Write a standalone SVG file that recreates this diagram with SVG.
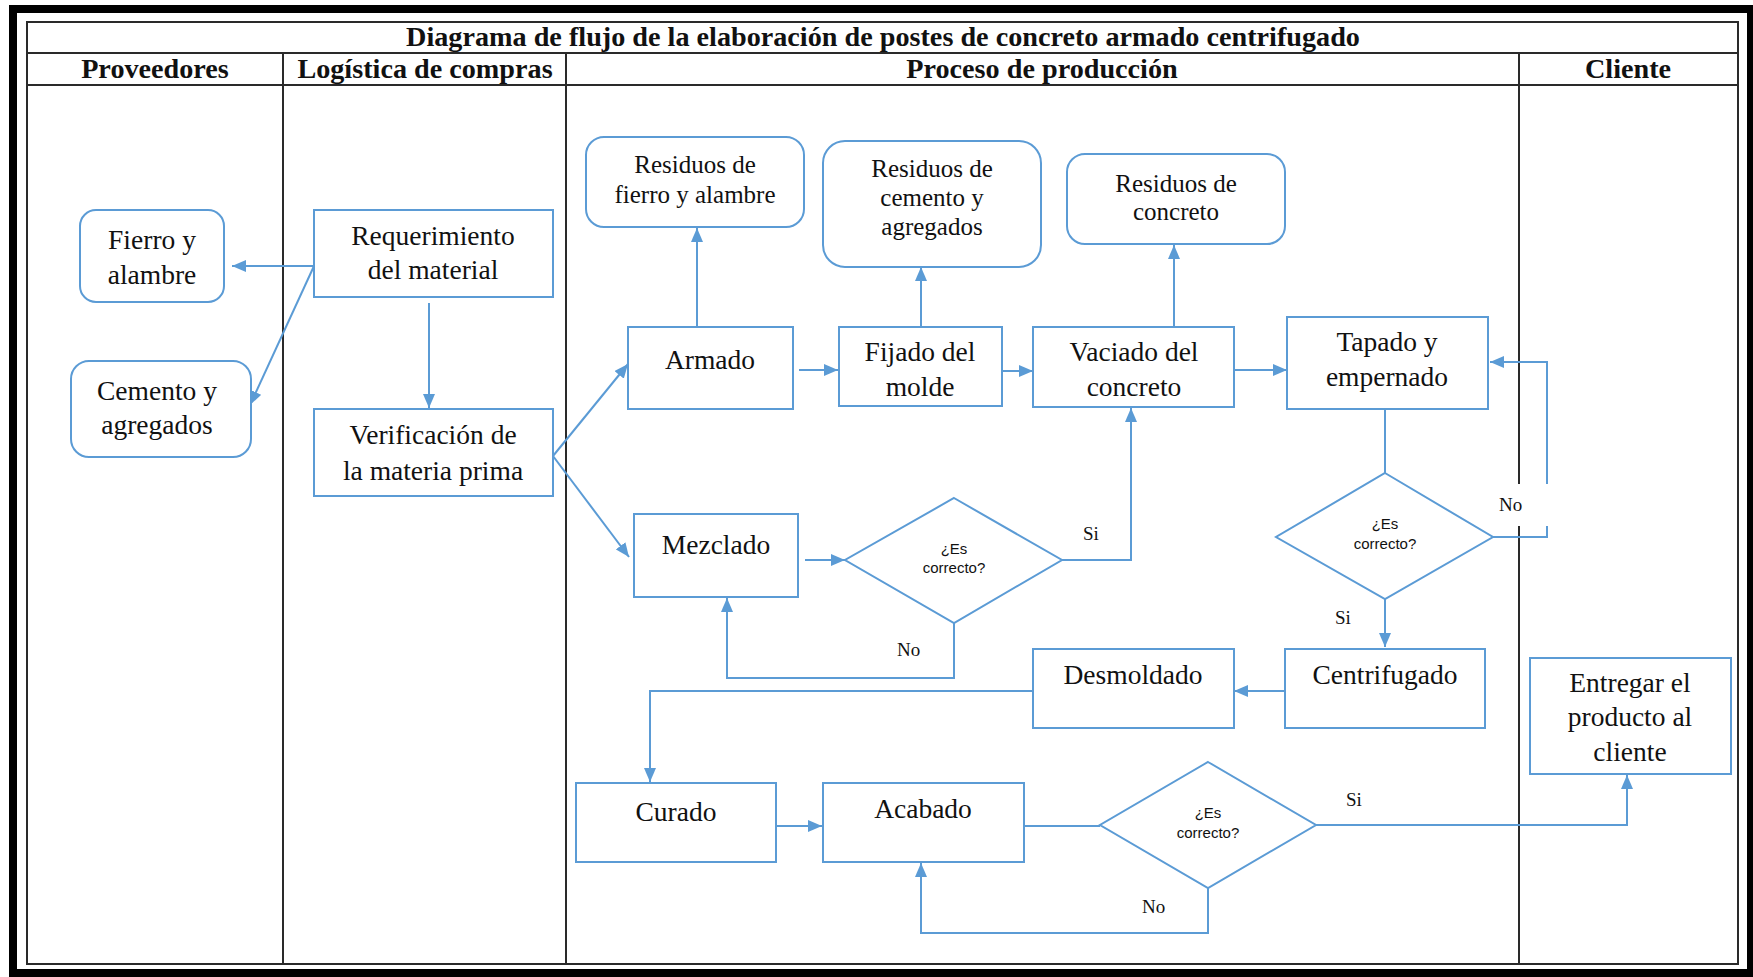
<svg xmlns="http://www.w3.org/2000/svg" width="1753" height="977" viewBox="0 0 1753 977">
  <defs>
    <marker id="arrow" viewBox="0 0 14 12" refX="14" refY="6" markerWidth="14" markerHeight="12" markerUnits="userSpaceOnUse" orient="auto">
      <path d="M0,0 L14,6 L0,12 z" fill="#5B9BD5"/>
    </marker>
    <style>
      .frame { fill: none; stroke: #000; stroke-width: 8; }
      .grid { fill: none; stroke: #2a2a2a; stroke-width: 2; }
      .title { font-family: "Liberation Serif", "Times New Roman", serif; font-weight: bold; font-size: 28.2px; fill: #111; text-anchor: middle; }
      .box { fill: #fff; stroke: #5B9BD5; stroke-width: 2; }
      .txt { font-family: "Liberation Serif", "Times New Roman", serif; font-size: 27.5px; fill: #111; text-anchor: middle; }
      .txt-s { font-family: "Liberation Serif", "Times New Roman", serif; font-size: 25px; fill: #111; text-anchor: middle; }
      .dtxt { font-family: "Liberation Sans", Arial, sans-serif; font-size: 15px; fill: #111; text-anchor: middle; }
      .lbl { font-family: "Liberation Serif", "Times New Roman", serif; font-size: 19px; fill: #111; }
      .conn { fill: none; stroke: #5B9BD5; stroke-width: 2; }
      .arr { marker-end: url(#arrow); }
    </style>
  </defs>

  <rect x="0" y="0" width="1753" height="977" fill="#fff"/>

  <!-- outer frame and swimlane table -->
  <g id="lanes">
    <rect class="frame" x="13" y="9" width="1738" height="964"/>
    <rect class="grid" x="27" y="22" width="1711" height="942"/>
    <line class="grid" x1="27" y1="53" x2="1738" y2="53"/>
    <line class="grid" x1="27" y1="85" x2="1738" y2="85"/>
    <line class="grid" x1="283" y1="53" x2="283" y2="964"/>
    <line class="grid" x1="566" y1="53" x2="566" y2="964"/>
    <line class="grid" x1="1519" y1="53" x2="1519" y2="964"/>
    <text class="title" x="883" y="46">Diagrama de flujo de la elaboración de postes de concreto armado centrifugado</text>
    <text class="title" x="155" y="78">Proveedores</text>
    <text class="title" x="425" y="78">Logística de compras</text>
    <text class="title" x="1042" y="78">Proceso de producción</text>
    <text class="title" x="1628" y="78">Cliente</text>
  </g>

  <!-- connectors -->
  <g id="connectors">
    <path class="conn arr" d="M314,266 L232,266"/>
    <path class="conn arr" d="M314,266 L250,405"/>
    <path class="conn arr" d="M429,303 L429,408"/>
    <path class="conn arr" d="M553,456 L628,364"/>
    <path class="conn arr" d="M553,456 L629,557"/>
    <path class="conn arr" d="M697,326 L697,228"/>
    <path class="conn arr" d="M799,370 L838,370"/>
    <path class="conn arr" d="M921,326 L921,267"/>
    <path class="conn arr" d="M1002,371 L1033,371"/>
    <path class="conn arr" d="M1174,326 L1174,245"/>
    <path class="conn arr" d="M1234,370 L1287,370"/>
    <path class="conn" d="M1385,409 L1385,473"/>
    <path class="conn arr" d="M1385,599 L1385,647"/>
    <path class="conn arr" d="M1493,537 L1547,537 L1547,362 L1490,362"/>
    <path class="conn arr" d="M1285,691 L1234,691"/>
    <path class="conn arr" d="M1033,691 L650,691 L650,782"/>
    <path class="conn arr" d="M777,826 L822,826"/>
    <path class="conn" d="M1024,826 L1100,826"/>
    <path class="conn arr" d="M1316,825 L1627,825 L1627,775"/>
    <path class="conn arr" d="M1208,888 L1208,933 L921,933 L921,863"/>
    <path class="conn arr" d="M805,560 L845,560"/>
    <path class="conn arr" d="M1062,560 L1131,560 L1131,408"/>
    <path class="conn arr" d="M954,623 L954,678 L727,678 L727,598"/>

    <rect x="1497" y="484" width="53" height="42" fill="#fff"/>
    <text class="lbl" x="1499" y="511">No</text>
    <text class="lbl" x="1335" y="624">Si</text>
    <text class="lbl" x="1083" y="540">Si</text>
    <text class="lbl" x="897" y="656">No</text>
    <text class="lbl" x="1346" y="806">Si</text>
    <text class="lbl" x="1142" y="913">No</text>
  </g>

  <g id="fierro-alambre">
    <rect class="box" x="80" y="210" width="144" height="92" rx="16"/>
    <text class="txt" x="152" y="249">Fierro y</text>
    <text class="txt" x="152" y="284">alambre</text>
  </g>

  <g id="cemento-agregados">
    <rect class="box" x="71" y="361" width="180" height="96" rx="18"/>
    <text class="txt" x="157" y="400">Cemento y</text>
    <text class="txt" x="157" y="434">agregados</text>
  </g>

  <g id="requerimiento">
    <rect class="box" x="314" y="210" width="239" height="87"/>
    <text class="txt" x="433" y="245">Requerimiento</text>
    <text class="txt" x="433" y="279">del material</text>
  </g>

  <g id="verificacion">
    <rect class="box" x="314" y="409" width="239" height="87"/>
    <text class="txt" x="433" y="444">Verificación de</text>
    <text class="txt" x="433" y="480">la materia prima</text>
  </g>

  <g id="residuos-fierro">
    <rect class="box" x="586" y="137" width="218" height="90" rx="18"/>
    <text class="txt-s" x="695" y="173">Residuos de</text>
    <text class="txt-s" x="695" y="203">fierro y alambre</text>
  </g>

  <g id="residuos-cemento">
    <rect class="box" x="823" y="141" width="218" height="126" rx="22"/>
    <text class="txt-s" x="932" y="177">Residuos de</text>
    <text class="txt-s" x="932" y="206">cemento y</text>
    <text class="txt-s" x="932" y="235">agregados</text>
  </g>

  <g id="residuos-concreto">
    <rect class="box" x="1067" y="154" width="218" height="90" rx="18"/>
    <text class="txt-s" x="1176" y="192">Residuos de</text>
    <text class="txt-s" x="1176" y="220">concreto</text>
  </g>

  <g id="armado">
    <rect class="box" x="628" y="327" width="165" height="82"/>
    <text class="txt" x="710" y="369">Armado</text>
  </g>

  <g id="fijado">
    <rect class="box" x="839" y="327" width="163" height="79"/>
    <text class="txt" x="920" y="361">Fijado del</text>
    <text class="txt" x="920" y="396">molde</text>
  </g>

  <g id="vaciado">
    <rect class="box" x="1033" y="327" width="201" height="80"/>
    <text class="txt" x="1134" y="361">Vaciado del</text>
    <text class="txt" x="1134" y="396">concreto</text>
  </g>

  <g id="tapado">
    <rect class="box" x="1287" y="317" width="201" height="92"/>
    <text class="txt" x="1387" y="351">Tapado y</text>
    <text class="txt" x="1387" y="386">empernado</text>
  </g>

  <g id="mezclado">
    <rect class="box" x="634" y="514" width="164" height="83"/>
    <text class="txt" x="716" y="554">Mezclado</text>
  </g>

  <g id="decision-mezcla">
    <polygon class="box" points="954,498 1062,560 954,623 845,560"/>
    <text class="dtxt" x="954" y="554">¿Es</text>
    <text class="dtxt" x="954" y="573">correcto?</text>
  </g>

  <g id="decision-tapado">
    <polygon class="box" points="1385,473 1493,537 1385,599 1276,537"/>
    <text class="dtxt" x="1385" y="529">¿Es</text>
    <text class="dtxt" x="1385" y="549">correcto?</text>
  </g>

  <g id="centrifugado">
    <rect class="box" x="1285" y="649" width="200" height="79"/>
    <text class="txt" x="1385" y="684">Centrifugado</text>
  </g>

  <g id="desmoldado">
    <rect class="box" x="1033" y="649" width="201" height="79"/>
    <text class="txt" x="1133" y="684">Desmoldado</text>
  </g>

  <g id="curado">
    <rect class="box" x="576" y="783" width="200" height="79"/>
    <text class="txt" x="676" y="821">Curado</text>
  </g>

  <g id="acabado">
    <rect class="box" x="823" y="783" width="201" height="79"/>
    <text class="txt" x="923" y="818">Acabado</text>
  </g>

  <g id="decision-acabado">
    <polygon class="box" points="1208,762 1316,825 1208,888 1100,825"/>
    <text class="dtxt" x="1208" y="818">¿Es</text>
    <text class="dtxt" x="1208" y="838">correcto?</text>
  </g>

  <g id="entregar">
    <rect class="box" x="1530" y="658" width="201" height="116"/>
    <text class="txt" x="1630" y="692">Entregar el</text>
    <text class="txt" x="1630" y="726">producto al</text>
    <text class="txt" x="1630" y="761">cliente</text>
  </g>
</svg>
